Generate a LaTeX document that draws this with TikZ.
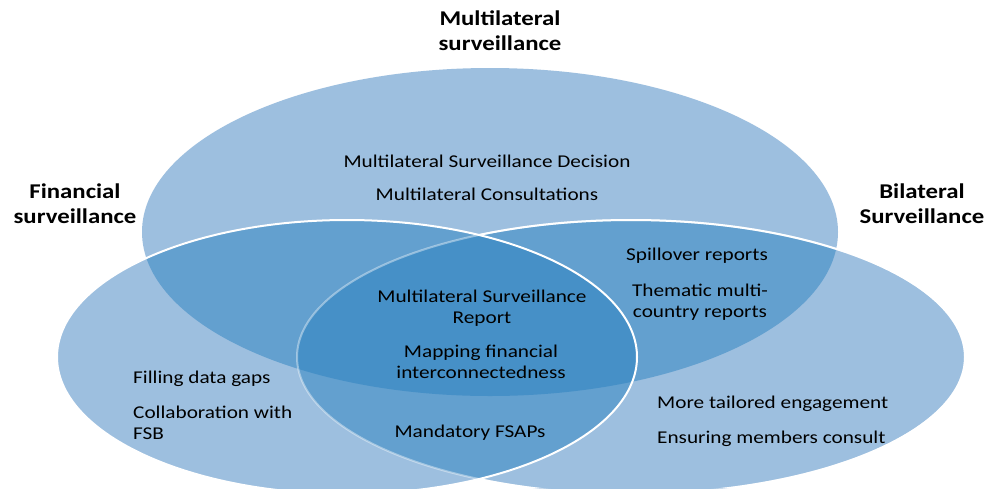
\documentclass[tikz,border=0pt]{standalone}
\usepackage{fontspec}
\setmainfont{Carlito}[FakeStretch=1.18]
\definecolor{vennlight}{HTML}{9DBFDF}
\definecolor{vennmid}{HTML}{63A0CF}
\definecolor{venndark}{HTML}{4690C7}
\def\multiset{(490,232) ellipse [x radius=348pt, y radius=164pt]}
\def\finset{(347,357) ellipse [x radius=290pt, y radius=137pt]}
\def\bilset{(631,357) ellipse [x radius=334pt, y radius=137pt]}
\begin{document}
\begin{tikzpicture}[x=1pt,y=-1pt,
    item/.style={font=\fontsize{18}{21}\selectfont, inner sep=0pt, anchor=base, align=center},
    heading/.style={font=\fontsize{21}{25}\selectfont\bfseries, inner sep=0pt, anchor=base, align=center},
    rim/.style={white, line width=2pt}]
            % Frame
            \clip (0,0) rectangle (991,488);
            \fill[white] (0,0) rectangle (991,488);

            % Sets
            \fill[vennlight] \multiset;
            \fill[vennlight] \finset;
            \fill[vennlight] \bilset;

            % Pairwise overlaps
            \begin{scope}
                \clip \multiset;
                \fill[vennmid] \finset;
                \fill[vennmid] \bilset;
            \end{scope}
            \begin{scope}
                \clip \finset;
                \fill[vennmid] \bilset;
            \end{scope}

            % Common core
            \begin{scope}
                \clip \multiset;
                \clip \finset;
                \fill[venndark] \bilset;
            \end{scope}

            % Outlines
            \draw[rim, opacity=0.4] \bilset;
            \begin{scope}[even odd rule]
                \clip (0,0) rectangle (991,488) \finset;
                \draw[rim] \bilset;
            \end{scope}
            \draw[rim] \finset;

            % Headings (base = last line)
            \node[heading] (multihead) at (500,50) {Multilateral\\surveillance};
            \node[heading] (finhead) at (75,223) {Financial\\surveillance};
            \node[heading] (bilhead) at (922,223) {Bilateral\\Surveillance};

            % Multilateral only
            \node[item] (decision) at (487,167) {Multilateral Surveillance Decision};
            \node[item] (consult) at (487,200) {Multilateral Consultations};

            % Multilateral and bilateral
            \node[item] (spill) at (697,260) {Spillover reports};
            \node[item] (thematic) at (700,317) {Thematic multi-\\country reports};

            % All three
            \node[item] (report) at (482,323) {Multilateral Surveillance\\Report};
            \node[item] (mapping) at (481,378) {Mapping financial\\interconnectedness};

            % Financial and bilateral
            \node[item] (fsap) at (470,437) {Mandatory FSAPs};

            % Financial only
            \node[item, anchor=base west, align=left] (gaps) at (133,383) {Filling data gaps};
            \node[item, anchor=base west, align=left] (fsb) at (133,439) {Collaboration with\\FSB};

            % Bilateral only
            \node[item, anchor=base west, align=left] (tailored) at (657,408) {More tailored engagement};
            \node[item, anchor=base west, align=left] (members) at (657,443) {Ensuring members consult};
\end{tikzpicture}
\end{document}
